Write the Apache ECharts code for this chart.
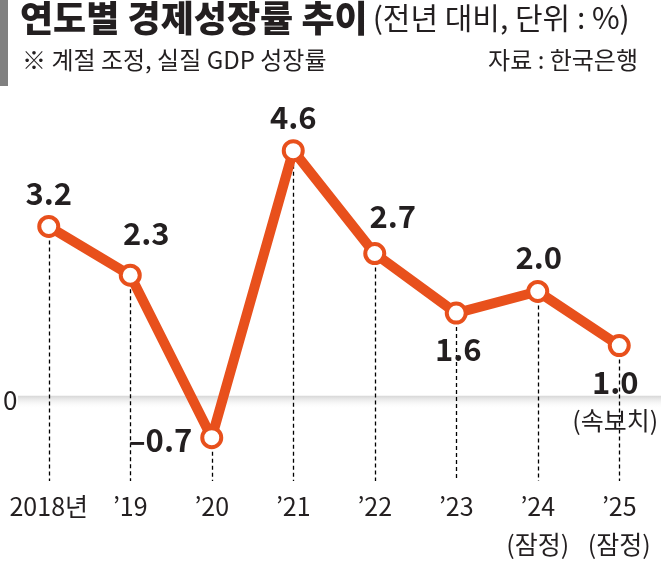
<!DOCTYPE html>
<html>
<head>
<meta charset="utf-8">
<script src="https://cdn.jsdelivr.net/npm/echarts@6/dist/echarts.min.js"></script>
<style>
  html, body { margin: 0; padding: 0; background: #fff; }
  #chart { width: 661px; height: 563px; }
</style>
</head>
<body>
<div id="chart"></div>
<script>
// data
const years = ['2018년', '’19', '’20', '’21', '’22', '’23', '’24', '’25'];
const yearNotes = ['', '', '', '', '', '', '(잠정)', '(잠정)'];
const growth = [3.2, 2.3, -0.7, 4.6, 2.7, 1.6, 2.0, 1.0];
const valueNotes = ['', '', '', '', '', '', '', '(속보치)'];

const yMin = -1.5;
const yMax = 5;
const orange = '#e8501c';
const ink = '#231f20';
const font = '"Noto Sans CJK KR", "Noto Sans", sans-serif';

// where each value label sits around its point
const labelSpots = [
  { position: 'inside', offset: [0, -33] },
  { position: 'inside', offset: [16, -42] },
  { position: 'left', distance: 8, offset: [0, 3] },
  { position: 'inside', offset: [0, -33] },
  { position: 'inside', offset: [18, -37] },
  { position: 'inside', offset: [2, 36] },
  { position: 'inside', offset: [1, -34] },
  { position: 'inside', offset: [-4, 56] }
];

const fmt = v => (v < 0 ? '–' + Math.abs(v).toFixed(1) : v.toFixed(1));

const chart = echarts.init(document.getElementById('chart'));

const option = {
  animation: false,
  backgroundColor: '#fff',
  title: [
    {
      left: 20, top: 0, padding: 0,
      text: '{b|연도별 경제성장률 추이} {n|(전년 대비, 단위 : %)}',
      textStyle: {
        rich: {
          b: { fontFamily: font, fontSize: 36, fontWeight: 900, color: ink },
          n: { fontFamily: font, fontSize: 30, fontWeight: 'normal', color: ink }
        }
      }
    },
    {
      left: 22, top: 48, padding: 0,
      text: '※ 계절 조정, 실질 GDP 성장률',
      textStyle: { fontFamily: font, fontSize: 24, fontWeight: 'normal', color: ink }
    },
    {
      right: 23, top: 48, padding: 0,
      text: '자료 : 한국은행',
      textStyle: { fontFamily: font, fontSize: 24, fontWeight: 'normal', color: ink }
    }
  ],
  grid: { left: 6, right: 1, top: 129, bottom: 76.5 },
  xAxis: {
    type: 'category',
    data: years,
    axisLine: { show: false },
    axisTick: { show: false },
    axisLabel: {
      interval: 0,
      margin: 6,
      fontFamily: font,
      fontSize: 25,
      lineHeight: 38,
      color: ink,
      formatter: (v, i) => (yearNotes[i] ? v + '\n' + yearNotes[i] : v)
    }
  },
  yAxis: {
    type: 'value',
    min: yMin,
    max: yMax,
    interval: 0.5,
    axisLine: { show: false },
    axisTick: { show: false },
    splitLine: { show: false },
    axisLabel: {
      inside: true,
      margin: -5,
      fontFamily: font,
      fontSize: 26,
      color: ink,
      formatter: v => (v === 0 ? '0' : '')
    }
  },
  series: [
    {
      // carries the dashed drop lines
      type: 'line',
      data: growth,
      showSymbol: false,
      lineStyle: { opacity: 0 },
      silent: true,
      z: 1,
      markLine: {
        silent: true,
        symbol: ['none', 'none'],
        label: { show: false },
        lineStyle: { type: [4, 3], color: '#000', width: 1.3 },
        data: growth.map((v, i) => [{ coord: [i, v] }, { coord: [i, yMin] }])
      }
    },
    {
      type: 'line',
      z: 5,
      data: growth.map((v, i) => ({ value: v, label: labelSpots[i] })),
      symbol: 'circle',
      symbolSize: 19,
      lineStyle: { color: orange, width: 10 },
      itemStyle: { color: '#fff', borderColor: orange, borderWidth: 4 },
      label: {
        show: true,
        fontFamily: font,
        fontSize: 31,
        fontWeight: 'bold',
        color: ink,
        formatter: p => {
          const s = '{v|' + fmt(p.value) + '}';
          return valueNotes[p.dataIndex] ? s + '\n{s|' + valueNotes[p.dataIndex] + '}' : s;
        },
        rich: {
          v: { fontFamily: font, fontSize: 31, fontWeight: 'bold', color: ink, lineHeight: 38 },
          s: { fontFamily: font, fontSize: 25, fontWeight: 'normal', color: ink, lineHeight: 38 }
        }
      }
    }
  ]
};

chart.setOption(option);

// zero band and the grey side bar
const y0 = chart.convertToPixel({ yAxisIndex: 0 }, 0);
chart.setOption({
  graphic: [
    {
      type: 'rect',
      z: 0,
      shape: { x: 0, y: 0, width: 8, height: 86 },
      style: { fill: '#808080' }
    },
    {
      type: 'rect',
      z: 0,
      silent: true,
      shape: { x: 18, y: y0 - 4, width: 661 - 18, height: 13 },
      style: {
        fill: new echarts.graphic.LinearGradient(0, 0, 0, 1, [
          { offset: 0, color: '#d6d6d6' },
          { offset: 1, color: 'rgba(255,255,255,0)' }
        ])
      }
    }
  ]
});
</script>
</body>
</html>
